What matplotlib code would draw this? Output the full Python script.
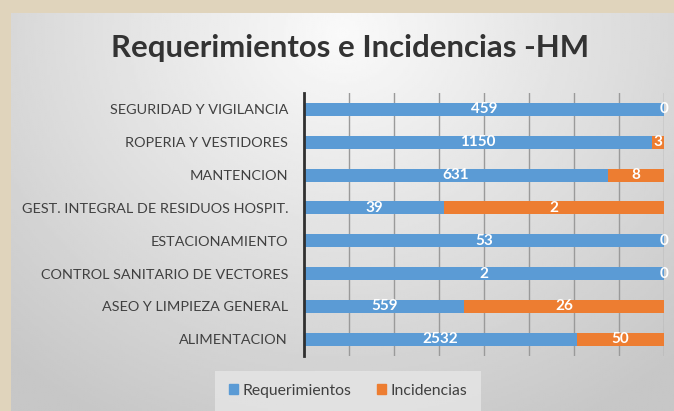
import numpy as np
import matplotlib
matplotlib.use('Agg')
import matplotlib.pyplot as plt
from matplotlib.patches import Patch

# categorias (de arriba hacia abajo)
categorias = ['SEGURIDAD Y VIGILANCIA', 'ROPERIA Y VESTIDORES', 'MANTENCION',
              'GEST. INTEGRAL DE RESIDUOS HOSPIT.', 'ESTACIONAMIENTO',
              'CONTROL SANITARIO DE VECTORES', 'ASEO Y LIMPIEZA GENERAL', 'ALIMENTACION']
# etiquetas mostradas en las barras
req_labels = [459, 1150, 631, 39, 53, 2, 559, 2532]
inc_labels = [0, 3, 8, 2, 0, 0, 26, 50]
# largo de cada segmento (% de la barra)
req_pct = [100, 96.8, 84.5, 39.0, 100, 100, 44.5, 75.9]
inc_pct = [0, 3.2, 15.5, 61.0, 0, 0, 55.5, 24.1]

AZUL = '#5B9BD5'
NARANJA = '#ED7D31'
FONT = ['Lato', 'DejaVu Sans']
plt.rcParams['font.family'] = FONT

W, H = 674, 411
fig = plt.figure(figsize=(W / 100, H / 100), dpi=100)
fig.patch.set_facecolor('#e0d4bc')

# panel gris con degradado
bg = fig.add_axes([11 / W, 0, 1 - 11 / W, 1 - 13 / H])
yy, xx = np.mgrid[0:1:200j, 0:1:300j]
d = np.sqrt(((xx - 0.5) / 0.75) ** 2 + ((yy - 0.05) / 1.1) ** 2)
shade = 0.98 - 0.2 * np.clip(d, 0, 1)
bg.imshow(shade, cmap='gray', vmin=0, vmax=1, aspect='auto', extent=(0, 1, 1, 0))
bg.set_axis_off()

ax = fig.add_axes([304 / W, (H - 355.7) / H, (664 - 304) / W, (355.7 - 93) / H])
ax.set_facecolor('none')

y = np.arange(len(categorias))
ax.barh(y, req_pct, height=0.4, color=AZUL, zorder=3)
ax.barh(y, inc_pct, left=req_pct, height=0.4, color=NARANJA, zorder=3)

for i in range(len(categorias)):
    ax.text(req_pct[i] / 2, y[i], str(req_labels[i]), ha='center', va='center',
            color='white', fontsize=11, fontweight='bold', zorder=4)
    ax.text(req_pct[i] + inc_pct[i] / 2, y[i], str(inc_labels[i]), ha='center', va='center',
            color='white', fontsize=11, fontweight='bold', zorder=4)

ax.set_xlim(0, 100)
ax.set_ylim(len(categorias) - 0.5, -0.5)
ax.set_xticks(np.arange(0, 101, 12.5))
ax.set_xticklabels([])
ax.tick_params(axis='x', length=0)
ax.grid(axis='x', color='#9a9a9a', linewidth=1, zorder=1)
ax.set_yticks(y)
ax.set_yticklabels(categorias, fontsize=10.4, color='#404040')
ax.tick_params(axis='y', length=0, pad=11.5)
for s in ['top', 'right', 'bottom']:
    ax.spines[s].set_visible(False)
ax.spines['left'].set_color('#303030')
ax.spines['left'].set_linewidth(2)
ax.spines['left'].set_zorder(5)

fig.text(350 / W, 1 - 48 / H, 'Requerimientos e Incidencias -HM', ha='center', va='center',
         fontsize=22.4, fontweight='bold', color='#333333')

handles = [Patch(color=AZUL, label='Requerimientos'), Patch(color=NARANJA, label='Incidencias')]
leg = fig.legend(handles=handles, loc='center', bbox_to_anchor=(348 / W, 1 - 391 / H), ncol=2,
                 frameon=True, fontsize=11.3, handlelength=0.6, handleheight=0.6,
                 columnspacing=1.6, handletextpad=0.3, borderpad=0.55, labelcolor='#404040')
leg.get_frame().set_facecolor('#e6e6e6')
leg.get_frame().set_edgecolor('none')
leg.get_frame().set_boxstyle('square')

fig.savefig('out.png', dpi=100)
